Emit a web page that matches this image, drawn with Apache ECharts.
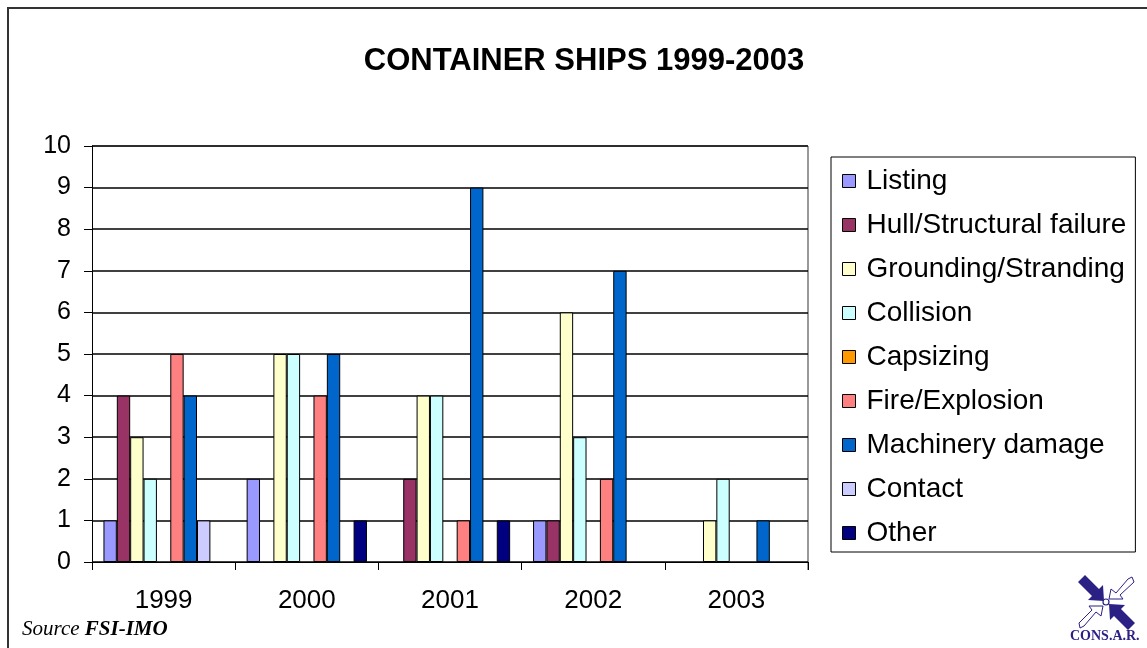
<!DOCTYPE html>
<html>
<head>
<meta charset="utf-8">
<script src="https://cdn.jsdelivr.net/npm/echarts@6/dist/echarts.min.js"></script>
<style>
  html, body { margin: 0; padding: 0; background: #fff; }
  #chart { width: 1147px; height: 648px; }
</style>
</head>
<body>
<div id="chart"></div>
<script>
const years = ['1999', '2000', '2001', '2002', '2003']
const causes = ['Listing', 'Hull/Structural failure', 'Grounding/Stranding', 'Collision', 'Capsizing',
  'Fire/Explosion', 'Machinery damage', 'Contact', 'Other']
const colors = ['#9999FF', '#993366', '#FFFFCC', '#CCFFFF', '#FF9900', '#FF8080', '#0066CC', '#CCCCFF', '#000080']

// one array per cause, values per year
const listing = [1, 2, 0, 1, 0]
const hull = [4, 0, 2, 1, 0]
const grounding = [3, 5, 4, 6, 1]
const collision = [2, 5, 4, 3, 2]
const capsizing = [0, 0, 0, 0, 0]
const fire = [5, 4, 1, 2, 0]
const machinery = [4, 5, 9, 7, 1]
const contact = [1, 0, 0, 0, 0]
const other = [0, 1, 1, 0, 0]
const yTicks = [0, 10, 1] // min, max, step

const values = [listing, hull, grounding, collision, capsizing, fire, machinery, contact, other]
const logoBlue = '#2B2185'

const chart = echarts.init(document.getElementById('chart'))
chart.setOption({
  backgroundColor: '#fff',
  animation: false,
  title: {
    text: 'CONTAINER SHIPS 1999-2003',
    left: 579,
    textAlign: 'center',
    top: 41,
    textStyle: { fontFamily: 'Liberation Sans', fontSize: 31, fontWeight: 'bold', color: '#000' },
  },
  legend: {
    orient: 'vertical',
    left: 831,
    top: 157,
    padding: [9, 9, 4, 11],
    borderColor: '#000',
    borderWidth: 1,
    itemWidth: 13,
    itemHeight: 13,
    itemGap: 14,
    icon: 'rect',
    itemStyle: { borderColor: '#000', borderWidth: 1 },
    textStyle: { fontFamily: 'Liberation Sans', fontSize: 28, lineHeight: 30, color: '#000', padding: [0, 0, 0, 6] },
    data: causes,
  },
  grid: { left: 92, right: 339, top: 146, bottom: 86 },
  xAxis: {
    type: 'category',
    data: years,
    axisLine: { lineStyle: { color: '#000', width: 1 } },
    axisTick: { show: true, length: 8, lineStyle: { color: '#000' } },
    axisLabel: { fontFamily: 'Liberation Sans', fontSize: 26, color: '#000', margin: 26 },
  },
  yAxis: {
    type: 'value',
    min: yTicks[0],
    max: yTicks[1],
    interval: yTicks[2],
    axisLine: { show: true, lineStyle: { color: '#000' } },
    axisTick: { show: true, length: 8, lineStyle: { color: '#000' } },
    axisLabel: { fontFamily: 'Liberation Sans', fontSize: 25, color: '#000', margin: 21 },
    splitLine: { show: true, lineStyle: { color: '#000', width: 1.5 } },
  },
  series: causes.map((name, i) => ({
    name: name,
    type: 'bar',
    // zero counts draw nothing, as in the original
    data: values[i].map(v => (v === 0 ? '-' : v)),
    barGap: '0%',
    barCategoryGap: '16%',
    itemStyle: { color: colors[i], borderColor: '#000', borderWidth: 1 },
  })),
  graphic: [
    { type: 'rect', shape: { x: 8, y: 8, width: 1160, height: 680 }, style: { fill: 'none', stroke: '#333', lineWidth: 2 }, silent: true },
    { type: 'line', shape: { x1: 808, y1: 146, x2: 808, y2: 570 }, style: { stroke: '#999', lineWidth: 2 } },
    { type: 'line', shape: { x1: 92, y1: 146, x2: 808, y2: 146 }, style: { stroke: '#999', lineWidth: 1.5 } },
    {
      type: 'text', x: 22, y: 619,
      style: {
        text: '{a|Source }{b|FSI-IMO}',
        rich: {
          a: { fontFamily: 'Liberation Serif', fontStyle: 'italic', fontSize: 21, fill: '#000' },
          b: { fontFamily: 'Liberation Serif', fontStyle: 'italic', fontWeight: 'bold', fontSize: 21, fill: '#000' },
        },
      },
    },
    {
      type: 'group', x: 1078, y: 575,
      children: [
        { type: 'polygon', shape: { points: [[0, 7], [7, 0], [21, 14], [25, 10], [26, 26], [10, 25], [14, 21]] }, style: { fill: logoBlue } },
        { type: 'polygon', shape: { points: [[57, 48], [50, 55], [36, 41], [32, 45], [31, 29], [47, 30], [43, 34]] }, style: { fill: logoBlue } },
        { type: 'polygon', shape: { points: [[31, 24], [33, 14], [38, 18], [50, 4], [54, 2], [56, 7], [42, 20], [45, 24]] }, style: { fill: '#fff', stroke: logoBlue, lineWidth: 1 } },
        { type: 'polygon', shape: { points: [[25, 31], [23, 41], [18, 37], [6, 51], [2, 53], [1, 48], [14, 35], [11, 31]] }, style: { fill: '#fff', stroke: logoBlue, lineWidth: 1 } },
        { type: 'circle', shape: { cx: 28, cy: 27, r: 3 }, style: { fill: '#fff', stroke: logoBlue, lineWidth: 1.2 } },
        { type: 'text', x: -8, y: 54, style: { text: 'CONS.A.R.', fontFamily: 'Liberation Serif', fontWeight: 'bold', fontSize: 14, fill: logoBlue } },
      ],
    },
  ],
})
</script>
</body>
</html>
